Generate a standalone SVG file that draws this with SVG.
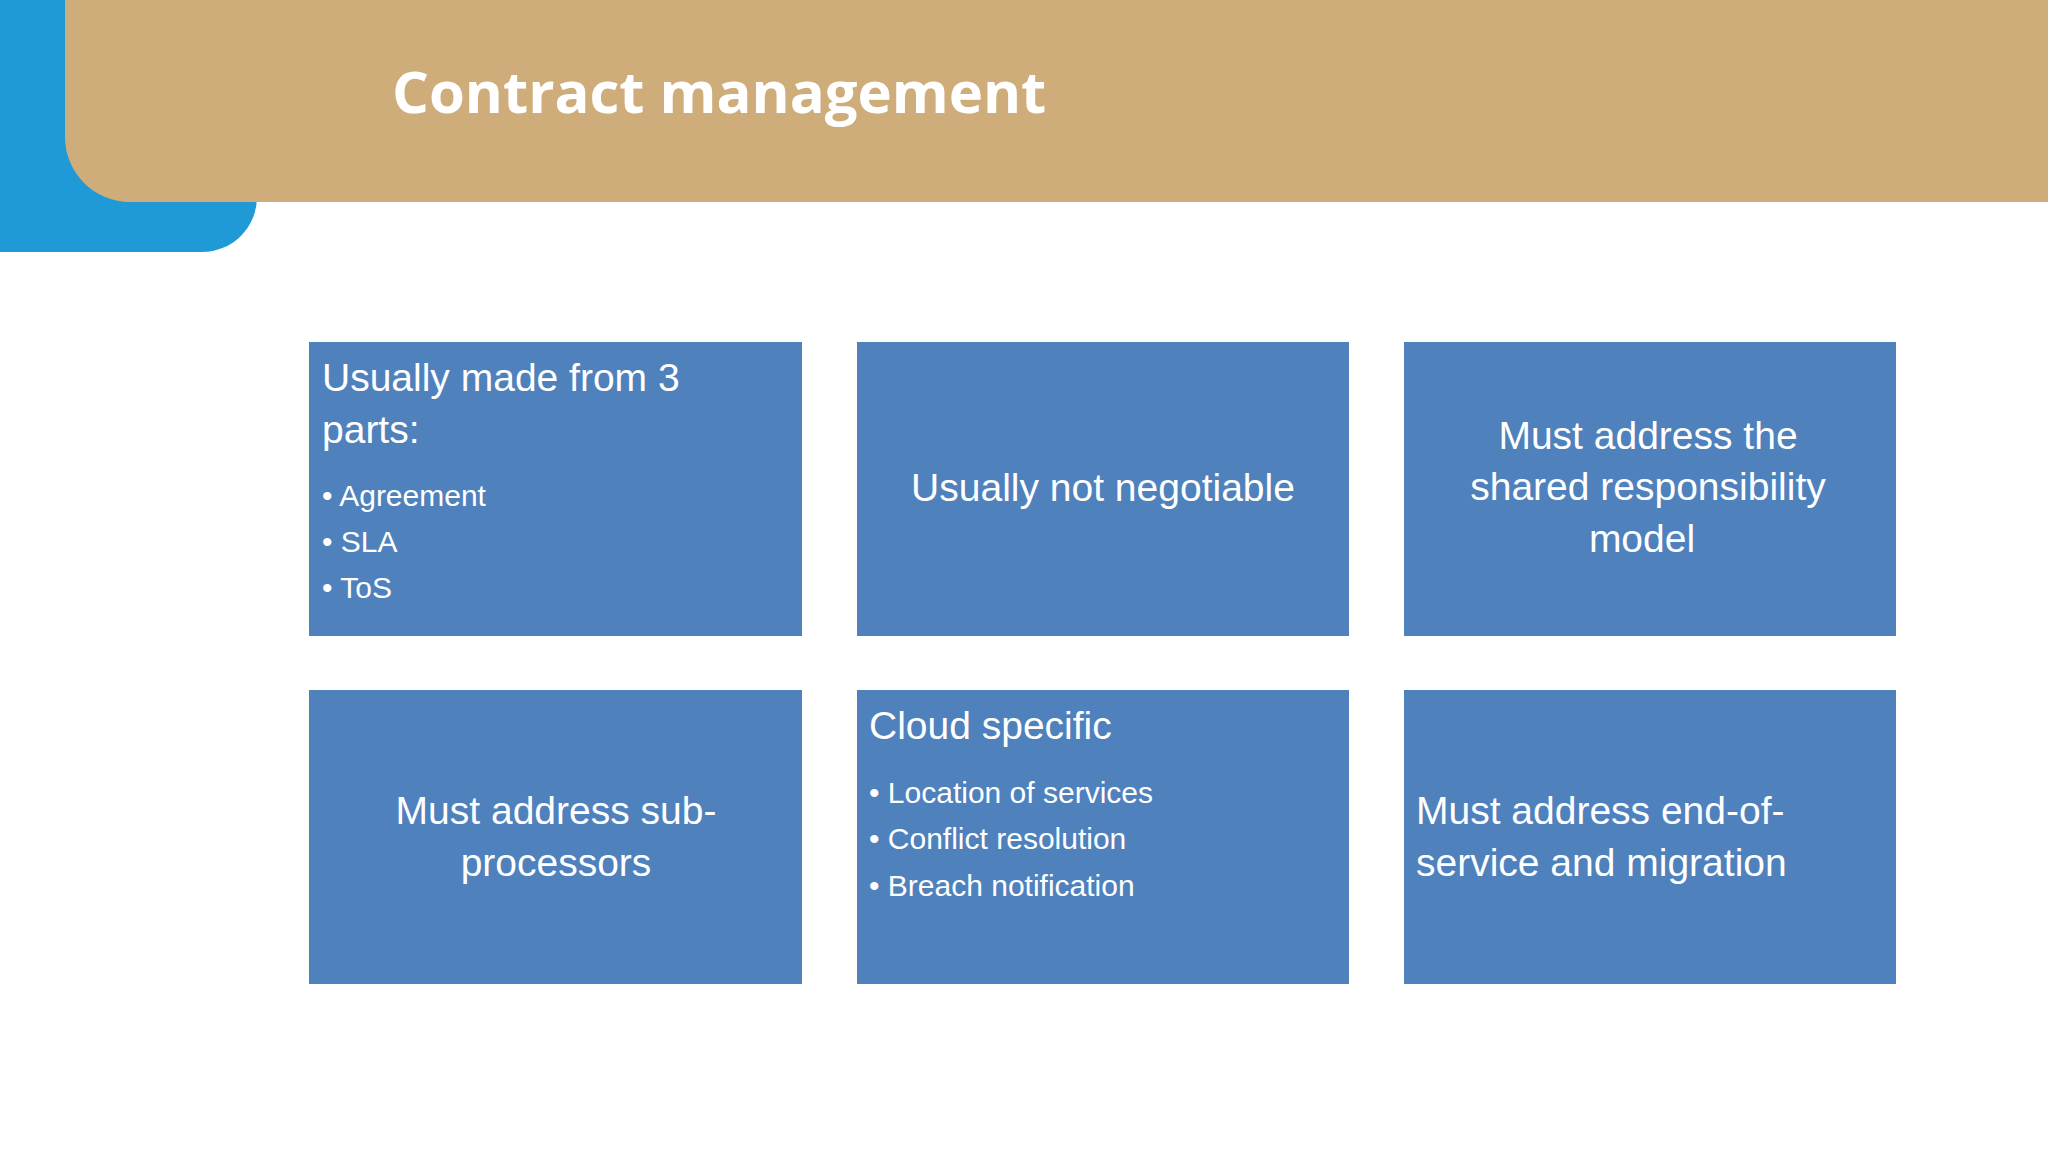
<svg xmlns="http://www.w3.org/2000/svg" width="2048" height="1152" viewBox="0 0 2048 1152">
<style>
.box{fill:#4F81BD}
.t{font-family:"Liberation Sans",Arial,sans-serif;fill:#fff;font-size:39px}
.b{font-family:"Liberation Sans",Arial,sans-serif;fill:#fff;font-size:30px}
.c{text-anchor:middle}
</style>
<rect width="2048" height="1152" fill="#fff"/>
<path d="M0 0H257V197A55 55 0 0 1 202 252H0Z" fill="#1F9AD6"/>
<path d="M65 0H2048V202H130A65 65 0 0 1 65 137Z" fill="#CFAD7A"/>
<text x="392" y="113" font-family="'Open Sans',sans-serif" font-weight="bold" font-size="58" fill="#fff">Contract management</text>
<g id="n1"><rect class="box" x="309" y="342" width="493" height="294"/>
<text class="t" x="322" y="391">Usually made from 3</text><text class="t" x="322" y="443">parts:</text>
<g class="b"><text x="322" y="506">• Agreement</text><text x="322" y="552">• SLA</text><text x="322" y="598">• ToS</text></g></g>
<g id="n2"><rect class="box" x="857" y="342" width="492" height="294"/>
<text class="t c" x="1103" y="501">Usually not negotiable</text></g>
<g id="n3"><rect class="box" x="1404" y="342" width="492" height="294"/>
<text class="t c" x="1648" y="449">Must address the</text><text class="t c" x="1648" y="500">shared responsibility</text><text class="t c" x="1642" y="552">model</text></g>
<g id="n4"><rect class="box" x="309" y="690" width="493" height="294"/>
<text class="t c" x="556" y="824">Must address sub-</text><text class="t c" x="556" y="876">processors</text></g>
<g id="n5"><rect class="box" x="857" y="690" width="492" height="294"/>
<text class="t" x="869" y="739">Cloud specific</text>
<g class="b"><text x="869" y="803">• Location of services</text><text x="869" y="849">• Conflict resolution</text><text x="869" y="896">• Breach notification</text></g></g>
<g id="n6"><rect class="box" x="1404" y="690" width="492" height="294"/>
<text class="t" x="1416" y="824">Must address end-of-</text><text class="t" x="1416" y="876">service and migration</text></g>
<g id="connectors"/>
</svg>
